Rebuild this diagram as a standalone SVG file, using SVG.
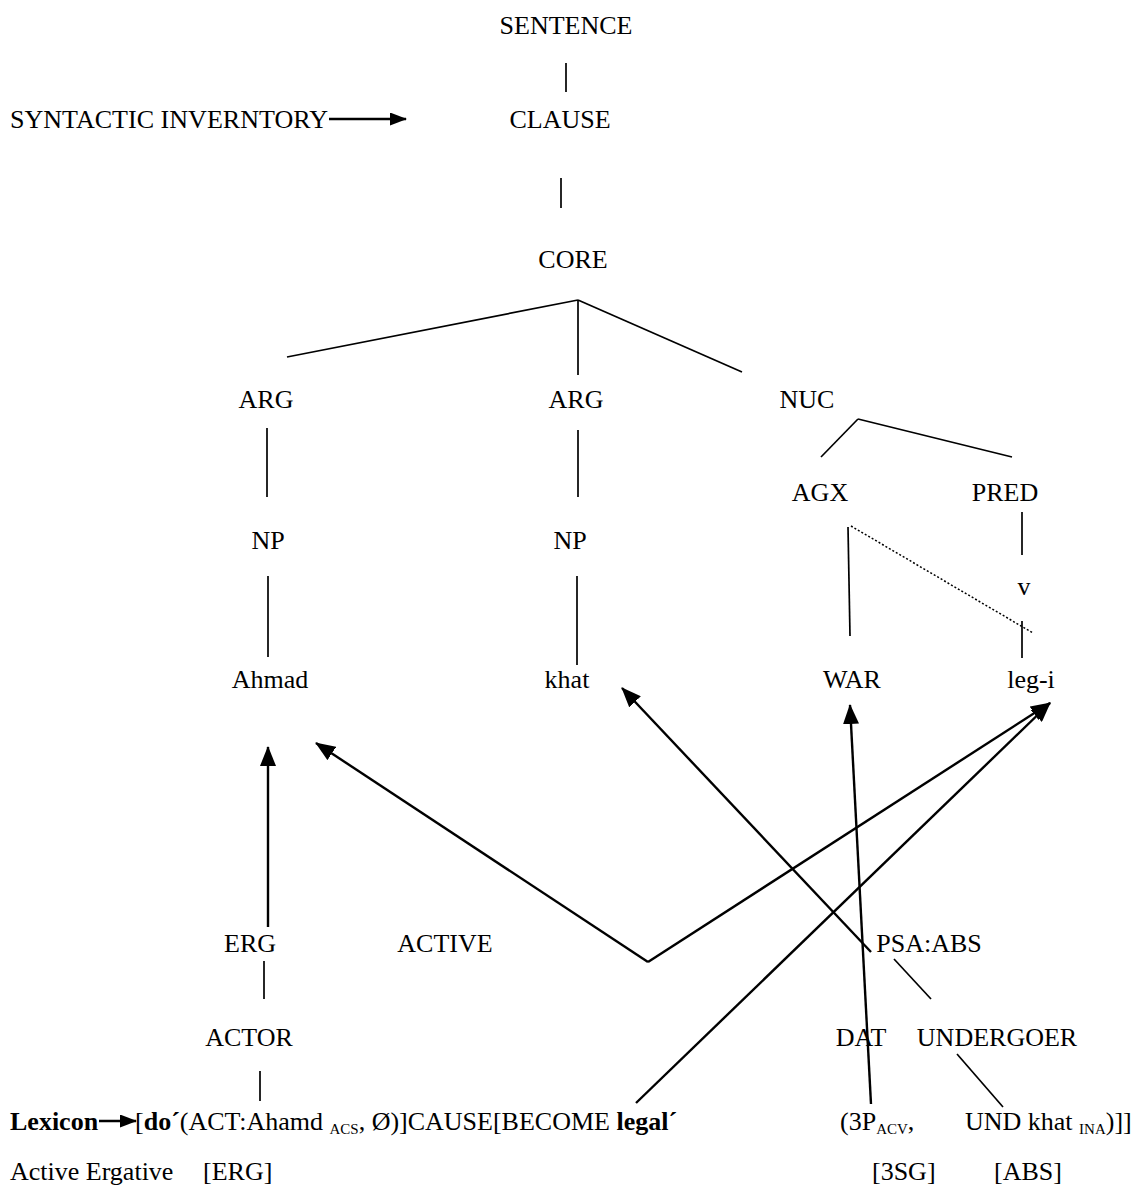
<svg xmlns="http://www.w3.org/2000/svg" width="1133" height="1189" viewBox="0 0 1133 1189">
<style>
text{font-family:"Liberation Serif","Times New Roman",serif;font-size:26px;fill:#000}
.m{text-anchor:middle}
.b{font-weight:bold}
.sub{font-size:15px}
.t{stroke:#000;stroke-width:1.7;fill:none}
.a{stroke:#000;stroke-width:2.4;fill:none}
.d{stroke:#000;stroke-width:1.5;stroke-dasharray:2 2;fill:none}
</style>
<defs>
<marker id="ah" markerUnits="userSpaceOnUse" markerWidth="20" markerHeight="16" refX="19" refY="8" orient="auto">
<path d="M0,0 L20,8 L0,16 z" fill="#000"/>
</marker>
<marker id="ahs" markerUnits="userSpaceOnUse" markerWidth="17" markerHeight="13" refX="16" refY="6.5" orient="auto">
<path d="M0,0 L17,6.5 L0,13 z" fill="#000"/>
</marker>
</defs>
<rect width="1133" height="1189" fill="#fff"/>
<g id="connectors">
<line class="t" x1="566" y1="63" x2="566" y2="92"/>
<line class="t" x1="561" y1="178" x2="561" y2="208"/>
<line class="t" x1="578" y1="300" x2="287" y2="357"/>
<line class="t" x1="578" y1="300" x2="578" y2="375"/>
<line class="t" x1="578" y1="300" x2="742" y2="372"/>
<line class="t" x1="267" y1="428" x2="267" y2="497"/>
<line class="t" x1="578" y1="430" x2="578" y2="497"/>
<line class="t" x1="858" y1="419" x2="821" y2="457"/>
<line class="t" x1="858" y1="419" x2="1012" y2="457"/>
<line class="t" x1="268" y1="576" x2="268" y2="657"/>
<line class="t" x1="577" y1="576" x2="577" y2="665"/>
<line class="t" x1="848" y1="527" x2="850" y2="636"/>
<line class="d" x1="851" y1="526" x2="1033" y2="633"/>
<line class="t" x1="1022" y1="512" x2="1022" y2="555"/>
<line class="t" x1="1022" y1="621" x2="1022" y2="658"/>
<line class="t" x1="264" y1="961" x2="264" y2="999"/>
<line class="t" x1="260" y1="1071" x2="260" y2="1101"/>
<line class="t" x1="894" y1="959" x2="931" y2="999"/>
<line class="t" x1="957" y1="1054" x2="1003" y2="1107"/>
<line class="a" x1="268" y1="927" x2="268" y2="747" marker-end="url(#ah)"/>
<line class="a" x1="648" y1="962" x2="316" y2="743" marker-end="url(#ah)"/>
<line class="a" x1="648" y1="962" x2="1050" y2="703" marker-end="url(#ah)"/>
<line class="a" x1="636" y1="1103" x2="1050" y2="703" marker-end="url(#ah)"/>
<line class="a" x1="871" y1="1104" x2="850" y2="705" marker-end="url(#ah)"/>
<line class="a" x1="871" y1="952" x2="622" y2="688" marker-end="url(#ah)"/>
<line class="a" x1="329" y1="119" x2="406" y2="119" marker-end="url(#ahs)"/>
<line class="a" x1="99" y1="1121" x2="136" y2="1121" marker-end="url(#ahs)"/>
</g>
<g id="n-sentence"><text class="m" x="566" y="34">SENTENCE</text></g>
<g id="n-syntactic"><text x="10" y="128" textLength="318" lengthAdjust="spacingAndGlyphs">SYNTACTIC INVERNTORY</text></g>
<g id="n-clause"><text class="m" x="560" y="128">CLAUSE</text></g>
<g id="n-core"><text class="m" x="573" y="268">CORE</text></g>
<g id="n-arg1"><text class="m" x="266" y="408">ARG</text></g>
<g id="n-arg2"><text class="m" x="576" y="408">ARG</text></g>
<g id="n-nuc"><text class="m" x="807" y="408">NUC</text></g>
<g id="n-agx"><text class="m" x="820" y="501">AGX</text></g>
<g id="n-pred"><text class="m" x="1005" y="501">PRED</text></g>
<g id="n-np1"><text class="m" x="268" y="549">NP</text></g>
<g id="n-np2"><text class="m" x="570" y="549">NP</text></g>
<g id="n-v"><text class="m" x="1024" y="595">v</text></g>
<g id="n-ahmad"><text class="m" x="270" y="688">Ahmad</text></g>
<g id="n-khat"><text class="m" x="567" y="688">khat</text></g>
<g id="n-war"><text class="m" x="852" y="688">WAR</text></g>
<g id="n-legi"><text class="m" x="1031" y="688">leg-i</text></g>
<g id="n-erg"><text class="m" x="250" y="952">ERG</text></g>
<g id="n-active"><text class="m" x="445" y="952">ACTIVE</text></g>
<g id="n-psa"><text class="m" x="929" y="952">PSA:ABS</text></g>
<g id="n-actor"><text class="m" x="249" y="1046">ACTOR</text></g>
<g id="n-dat"><text class="m" x="861" y="1046">DAT</text></g>
<g id="n-undergoer"><text class="m" x="997" y="1046">UNDERGOER</text></g>
<g id="n-lexicon">
<text class="b" x="10" y="1130">Lexicon</text>
<text x="135" y="1130">[<tspan class="b">do´</tspan>(ACT:Ahamd <tspan class="sub" dy="4">ACS</tspan><tspan dy="-4">, Ø)]CAUSE[BECOME </tspan><tspan class="b">legal´</tspan></text>
<text x="840" y="1130">(3P<tspan class="sub" dy="4">ACV</tspan><tspan dy="-4">,</tspan></text>
<text x="965" y="1130">UND khat <tspan class="sub" dy="4">INA</tspan><tspan dy="-4">)]]</tspan></text>
</g>
<g id="n-active-ergative">
<text x="10" y="1180">Active Ergative</text>
<text x="203" y="1180">[ERG]</text>
<text x="872" y="1180">[3SG]</text>
<text x="994" y="1180">[ABS]</text>
</g>
</svg>
